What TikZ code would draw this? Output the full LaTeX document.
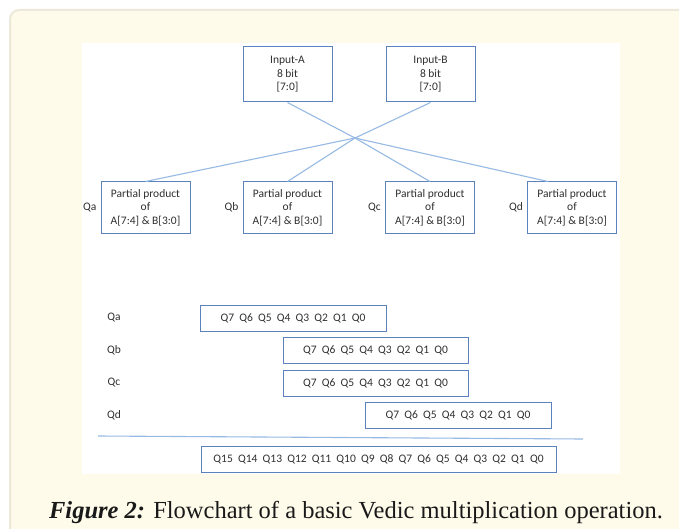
\documentclass[tikz,border=0pt]{standalone}
\usepackage{fontspec}
\setmainfont{Liberation Serif}
\newfontfamily\boxfont{Carlito}
\usetikzlibrary{positioning}

\definecolor{colCrema}{HTML}{FFFBEA}
\definecolor{colBordo}{HTML}{ECE8DA}
\definecolor{colBlu}{HTML}{5B82BC}
\definecolor{colFilo}{HTML}{97BAE4}
\definecolor{colTesto}{HTML}{303030}

\tikzset{
  blocco/.style={draw=colBlu, line width=1pt, fill=white, align=center, inner sep=0pt,
    font=\boxfont\fontsize{11.5}{13.5}\selectfont, text=colTesto},
  etich/.style={font=\boxfont\fontsize{11.5}{13.5}\selectfont, text=colTesto, inner sep=2pt},
  filo/.style={draw=colFilo, line width=1.1pt},
}

\begin{document}
\begin{tikzpicture}[x=1pt,y=-1pt]
  \useasboundingbox (0,0) rectangle (679,529);
  % Sfondo
  \draw[draw=colBordo, line width=2pt, fill=colCrema, rounded corners=9pt] (10,10) rectangle (720,570);
  \fill[white] (82,43) rectangle (620,474);

  % Ingressi
  \node[blocco, minimum width=89pt, minimum height=55pt] (inA) at (287.5,74.5) {Input-A\\8 bit\\{[7:0]}};
  \node[blocco, minimum width=89pt, minimum height=55pt] (inB) at (430.5,74.5) {Input-B\\8 bit\\{[7:0]}};

  % Prodotti parziali
  \node[blocco, minimum width=89pt, minimum height=51pt] (pp1) at (145.5,207.5) {Partial product\\of\\A[7:4] \& B[3:0]};
  \node[blocco, minimum width=89pt, minimum height=51pt] (pp2) at (287.5,207.5) {Partial product\\of\\A[7:4] \& B[3:0]};
  \node[blocco, minimum width=89pt, minimum height=51pt] (pp3) at (430,207.5) {Partial product\\of\\A[7:4] \& B[3:0]};
  \node[blocco, minimum width=89pt, minimum height=51pt] (pp4) at (572,207.5) {Partial product\\of\\A[7:4] \& B[3:0]};
  \node[etich, left=2pt of pp1] (qa) {Qa};
  \node[etich, left=2pt of pp2] (qb) {Qb};
  \node[etich, left=2pt of pp3] (qc) {Qc};
  \node[etich, left=2pt of pp4] (qd) {Qd};

  % Collegamenti
  \coordinate (nodo) at (355,138);
  \draw[filo] (inA.south) -- (nodo);
  \draw[filo] (inB.south) -- (nodo);
  \draw[filo] (nodo) -- (pp1.north);
  \draw[filo] (nodo) -- (pp2.north);
  \draw[filo] (nodo) -- (pp3.north);
  \draw[filo] (nodo) -- ([xshift=-24pt]pp4.north);

  % Somma dei prodotti parziali
  \node[etich] (ra) at (114,318) {Qa};
  \node[etich] (rb) at (114,350) {Qb};
  \node[etich] (rc) at (114,383) {Qc};
  \node[etich] (rd) at (114,415) {Qd};
  \node[blocco, minimum width=186pt, minimum height=26pt] (sa) at (293,318) {Q7~~Q6~~Q5~~Q4~~Q3~~Q2~~Q1~~Q0};
  \node[blocco, minimum width=185pt, minimum height=26pt] (sb) at (375.5,350) {Q7~~Q6~~Q5~~Q4~~Q3~~Q2~~Q1~~Q0};
  \node[blocco, minimum width=185pt, minimum height=26pt] (sc) at (375.5,383) {Q7~~Q6~~Q5~~Q4~~Q3~~Q2~~Q1~~Q0};
  \node[blocco, minimum width=186pt, minimum height=26pt] (sd) at (458,415) {Q7~~Q6~~Q5~~Q4~~Q3~~Q2~~Q1~~Q0};
  \coordinate (sepL) at (98,436);
  \coordinate (sepR) at (583,439);
  \draw[filo] (sepL) -- (sepR);
  \node[blocco, minimum width=355pt, minimum height=26pt] (tot) at (378.5,459) {Q15~~Q14~~Q13~~Q12~~Q11~~Q10~~Q9~~Q8~~Q7~~Q6~~Q5~~Q4~~Q3~~Q2~~Q1~~Q0};

  % Didascalia
  \node[anchor=base, font=\fontsize{24.5}{28}\selectfont, text=black!90] (didasc) at (356,518) {\textbf{\textit{Figure 2:}} Flowchart of a basic Vedic multiplication operation.};
\end{tikzpicture}
\end{document}
